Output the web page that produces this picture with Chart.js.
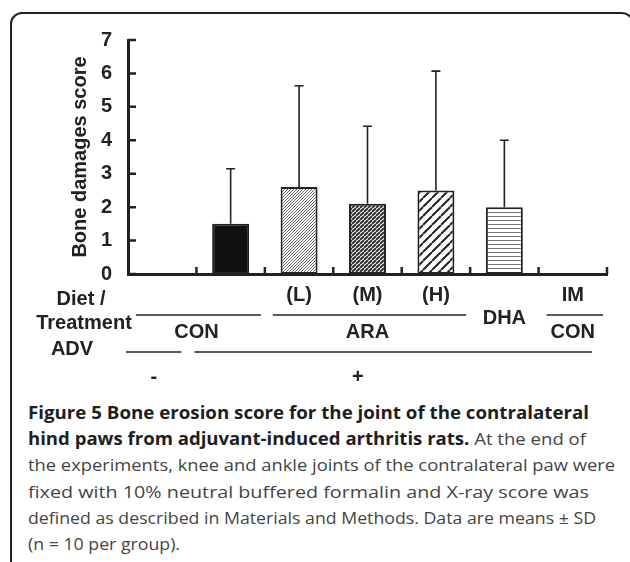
<!DOCTYPE html>
<html>
<head>
<meta charset="utf-8">
<script src="https://cdn.jsdelivr.net/npm/chart.js@4.4.0/dist/chart.umd.min.js"></script>
<style>
  html, body { margin: 0; padding: 0; background: #fff; }
  body { width: 630px; height: 562px; overflow: hidden; position: relative; }
  #frame { position: absolute; left: 10px; top: 12px; width: 624px; height: 620px;
           border: 2px solid #222; border-radius: 12px; box-sizing: border-box; }
  #wrap { position: absolute; left: 0; top: 0; width: 630px; height: 400px; }
  #caption { position: absolute; left: 28px; top: 400px; font-family: "Open Sans", sans-serif;
             font-size: 17px; color: #444; line-height: 26.2px; }
  #caption div { white-space: nowrap; }
  #caption span { display: inline-block; transform-origin: left center; }
  #caption b { color: #1e1e1e; }
  #probe { position: absolute; left: -999px; font: bold 20px "Liberation Sans"; }
</style>
</head>
<body>
<div id="probe">Bone damages score</div>
<div id="frame"></div>
<div id="wrap"><canvas id="chart" width="630" height="400"></canvas></div>
<div id="caption">
  <div><span><b>Figure 5 Bone erosion score for the joint of the contralateral</b></span></div>
  <div><span><b>hind paws from adjuvant-induced arthritis rats.</b> At the end of</span></div>
  <div><span>the experiments, knee and ankle joints of the contralateral paw were</span></div>
  <div><span>fixed with 10% neutral buffered formalin and X-ray score was</span></div>
  <div><span>defined as described in Materials and Methods. Data are means ± SD</span></div>
  <div><span>(n = 10 per group).</span></div>
</div>
<script>
// groups along the x axis, one bar each
const categories = ['CON -', 'CON +', 'ARA (L)', 'ARA (M)', 'ARA (H)', 'DHA', 'IM CON'];
const means = [0, 1.5, 2.6, 2.1, 2.5, 2.0, 0];
const sds = [0, 1.65, 3.03, 2.32, 3.57, 2.0, 0];
const yTicks = [0, 1, 2, 3, 4, 5, 6, 7];

// labels under the axis
const doseLabels = ['', '', '(L)', '(M)', '(H)', '', 'IM'];
const dietGroups = [
  { label: 'CON', from: 0, to: 1 },
  { label: 'ARA', from: 2, to: 4 },
  { label: 'DHA', from: 5, to: 5, line: false },
  { label: 'CON', from: 6, to: 6 },
];
const advGroups = [
  { label: '-', from: 0, to: 0 },
  { label: '+', from: 1, to: 6, at: 2.86 },
];

const boldFont = '"Liberation Sans", Arial, sans-serif';
const ink = '#222';

const ctx = document.getElementById('chart').getContext('2d');

// fill patterns for the hatched bars
function makePattern(w, h, draw) {
  const c = document.createElement('canvas');
  c.width = w; c.height = h;
  const g = c.getContext('2d');
  g.fillStyle = '#fff';
  g.fillRect(0, 0, w, h);
  draw(g, w, h);
  return ctx.createPattern(c, 'repeat');
}
function diagonal(size, width, color) {
  return makePattern(size, size, (g, w, h) => {
    g.strokeStyle = color;
    g.lineWidth = width;
    g.beginPath();
    for (let k = -1; k <= 1; k++) {
      g.moveTo(k * w, h);
      g.lineTo(k * w + w, 0);
    }
    g.stroke();
  });
}
const fills = [
  '#fff',
  '#111',
  diagonal(3, 0.9, '#555'),
  diagonal(4, 2, '#333'),
  diagonal(9, 2, '#222'),
  makePattern(4, 4, (g) => { g.fillStyle = '#777'; g.fillRect(0, 0, 4, 1); }),
  '#fff',
];

// inward tick marks on both axes
const axisTicks = {
  id: 'axisTicks',
  afterDraw(chart) {
    const { ctx, chartArea, scales: { x, y } } = chart;
    const half = x.width / categories.length / 2;
    ctx.save();
    ctx.strokeStyle = ink;
    ctx.lineWidth = 2.5;
    ctx.beginPath();
    yTicks.forEach(v => {
      const py = y.getPixelForValue(v);
      ctx.moveTo(chartArea.left, py);
      ctx.lineTo(chartArea.left + 8, py);
    });
    categories.forEach((c, i) => {
      const px = x.getPixelForValue(i) + half;
      ctx.moveTo(px, chartArea.bottom);
      ctx.lineTo(px, chartArea.bottom - 7);
    });
    ctx.stroke();
    ctx.restore();
  }
};

const errorBars = {
  id: 'errorBars',
  afterDatasetsDraw(chart) {
    const { ctx, scales: { x, y } } = chart;
    ctx.save();
    ctx.strokeStyle = ink;
    ctx.lineWidth = 1.6;
    means.forEach((m, i) => {
      if (!sds[i]) return;
      const px = x.getPixelForValue(i);
      const top = y.getPixelForValue(m + sds[i]);
      ctx.beginPath();
      ctx.moveTo(px, y.getPixelForValue(m));
      ctx.lineTo(px, top);
      ctx.moveTo(px - 4.5, top);
      ctx.lineTo(px + 4.5, top);
      ctx.stroke();
    });
    ctx.restore();
  }
};

const groupLabels = {
  id: 'groupLabels',
  afterDraw(chart) {
    const { ctx, chartArea, scales: { x } } = chart;
    const half = x.width / categories.length / 2;
    const left = i => x.getPixelForValue(i) - half;
    const right = i => x.getPixelForValue(i) + half;
    const b = chartArea.bottom;
    const hline = (x1, x2, yy) => {
      ctx.beginPath();
      ctx.moveTo(x1, yy);
      ctx.lineTo(x2, yy);
      ctx.stroke();
    };
    ctx.save();
    ctx.font = 'bold 20px ' + boldFont;
    ctx.fillStyle = ink;
    ctx.strokeStyle = ink;
    ctx.lineWidth = 1.5;
    ctx.textAlign = 'center';
    ctx.textBaseline = 'middle';

    ctx.fillText('Diet /', chartArea.left - 47, b + 25);
    ctx.fillText('Treatment', chartArea.left - 44, b + 49);
    ctx.fillText('ADV', chartArea.left - 56, b + 75);

    doseLabels.forEach((t, i) => {
      if (t) ctx.fillText(t, x.getPixelForValue(i), b + 21);
    });
    dietGroups.forEach(g => {
      const x1 = left(g.from) + 8, x2 = right(g.to) - 4;
      const cx = (x.getPixelForValue(g.from) + x.getPixelForValue(g.to)) / 2;
      if (g.line === false) {
        ctx.fillText(g.label, cx, b + 44);
      } else {
        hline(x1, x2, b + 41);
        ctx.fillText(g.label, cx, b + 58);
      }
    });
    advGroups.forEach(g => {
      const x1 = left(g.from) - 2, x2 = right(g.to) - 15;
      hline(x1, x2, b + 78);
      const cx = g.at != null ? x.getPixelForValue(g.at) : (x1 + x2) / 2;
      ctx.fillText(g.label, cx, b + 103);
    });
    ctx.restore();
  }
};

function draw() {
  new Chart(ctx, {
    type: 'bar',
    data: {
      labels: categories,
      datasets: [{
        data: means,
        backgroundColor: fills,
        borderColor: ink,
        borderWidth: 2,
        borderSkipped: false,
        categoryPercentage: 1,
        barPercentage: 0.54,
      }]
    },
    options: {
      responsive: false,
      animation: false,
      layout: { padding: { left: 60, top: 40, right: 23, bottom: 0 } },
      plugins: { legend: { display: false }, tooltip: { enabled: false } },
      scales: {
        x: {
          ticks: { display: false },
          grid: { display: false },
          border: { color: ink, width: 3 },
          afterFit(scale) { scale.height = 126; },
        },
        y: {
          min: 0,
          max: 7,
          afterBuildTicks(scale) { scale.ticks = yTicks.map(v => ({ value: v })); },
          ticks: {
            padding: 8,
            color: ink,
            font: { family: boldFont, size: 20, weight: 'bold' },
          },
          grid: { display: false },
          border: { color: ink, width: 3 },
          title: {
            display: true,
            text: 'Bone damages score',
            color: ink,
            font: { family: boldFont, size: 20, weight: 'bold' },
            padding: { top: 8, bottom: 0 },
          },
          afterFit(scale) { scale.width = 68; },
        }
      }
    },
    plugins: [axisTicks, errorBars, groupLabels]
  });
}

document.fonts.load('bold 20px "Liberation Sans"').then(draw, draw);

// stretch each caption line to the width it has in the figure
const lineEnds = [589, 586, 615, 589, 596];
const spans = document.querySelectorAll('#caption span');
let lastScale = 1;
spans.forEach((s, i) => {
  const w = s.getBoundingClientRect().width;
  if (i < lineEnds.length) lastScale = (lineEnds[i] - 28) / w;
  s.style.transform = 'scaleX(' + lastScale + ')';
});
</script>
</body>
</html>
